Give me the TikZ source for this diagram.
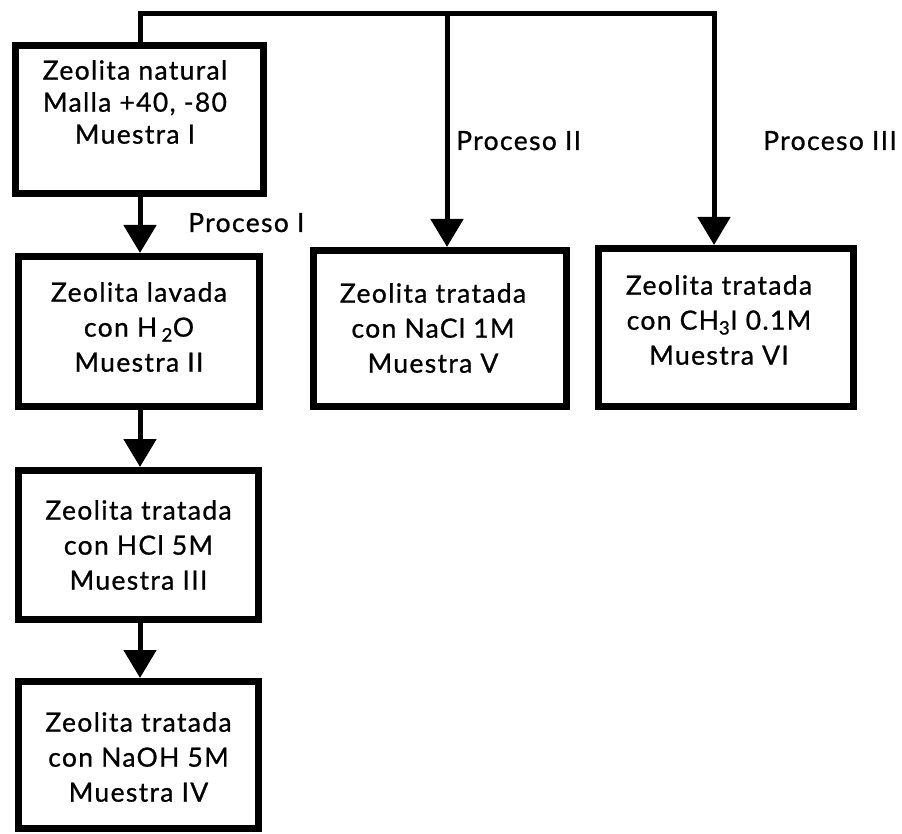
\documentclass[tikz,border=0pt]{standalone}
\usepackage{fontspec}
\setmainfont[LetterSpace=5,FakeBold=0.8]{Lato}
\usetikzlibrary{arrows.meta}
\begin{document}
\begin{tikzpicture}[x=1pt,y=-1pt,
  box/.style={draw=black, line width=7pt, inner sep=0pt, fill=white},
  txt/.style={align=center, font=\fontsize{26.5}{35}\selectfont, inner sep=0pt},
  txtone/.style={align=center, font=\fontsize{26.5}{32}\selectfont, inner sep=0pt},
  conn/.style={line width=5pt},
  arr/.style={conn, -{Triangle[width=32pt,length=28pt]}},
  lbl/.style={font=\fontsize{26.5}{30}\selectfont, inner sep=0pt, anchor=base west}
]
\useasboundingbox (0,0) rectangle (902,834);

% boxes
\node[box, minimum width=248pt, minimum height=148pt] (b1) at (139.5,119.5) {};
\node[box, minimum width=241pt, minimum height=150pt] (b2) at (139,331.5) {};
\node[box, minimum width=240pt, minimum height=149pt] (b3) at (138.5,545) {};
\node[box, minimum width=240pt, minimum height=147pt] (b4) at (138.5,755) {};
\node[box, minimum width=253pt, minimum height=156pt] (b5) at (440,328.5) {};
\node[box, minimum width=255pt, minimum height=158pt] (b6) at (726,327.5) {};

% texts
\node[txtone] (t1) at (135,102) {Zeolita natural\\Malla +40, -80\\Muestra I};
\node[txt] (t2) at (139,327) {Zeolita lavada\\con H\,\textsubscript{2}O\\Muestra II};
\node[txt] (t3) at (138.5,545) {Zeolita tratada\\con HCl 5M\\Muestra III};
\node[txt] (t4) at (138.5,757) {Zeolita tratada\\con NaOH 5M\\Muestra IV};
\node[txt] (t5) at (433,328) {Zeolita tratada\\con NaCl 1M\\Muestra V};
\node[txt] (t6) at (719,320) {Zeolita tratada\\con CH\textsubscript{3}I 0.1M\\Muestra VI};

% connectors
\coordinate (tl) at (140,14);
\coordinate (tm) at (447,14);
\coordinate (tr) at (714,14);
\draw[arr] (b1.north -| tl) -- (tl) -- (tr) -- (tr |- b6.north);
\draw[arr] (tm) -- (tm |- b5.north);
\draw[arr] (b1.south -| tl) -- (tl |- b2.north);
\draw[arr] (b2.south -| tl) -- (tl |- b3.north);
\draw[arr] (b3.south -| tl) -- (tl |- b4.north);

% labels
\node[lbl] (p1) at (188,232) {Proceso I};
\node[lbl] (p2) at (456,150) {Proceso II};
\node[lbl] (p3) at (763,150) {Proceso III};
\end{tikzpicture}
\end{document}
